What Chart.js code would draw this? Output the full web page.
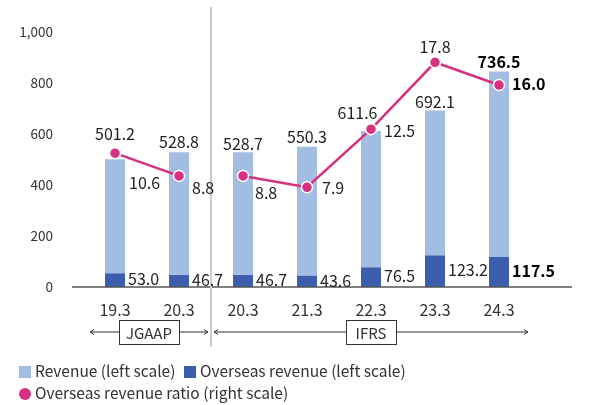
<!DOCTYPE html>
<html>
<head>
<meta charset="utf-8">
<script src="https://cdn.jsdelivr.net/npm/chart.js@4/dist/chart.umd.min.js"></script>
<style>
  body { margin: 0; background: #fff; }
  #wrap { position: relative; width: 608px; height: 405px; }
  .item { position: absolute; font: 15.5px "Noto Sans CJK JP", "Noto Sans", sans-serif; color: #333; line-height: 20px; white-space: nowrap; }
  .sq { display: inline-block; width: 12px; height: 12px; margin-right: 4px; vertical-align: -1px; }
  .dot { display: inline-block; width: 12px; height: 12px; border-radius: 50%; margin-right: 4px; vertical-align: -1px; }
</style>
</head>
<body>
<div id="wrap">
  <canvas id="chart" width="608" height="405"></canvas>
  <div class="item" style="left:19px;top:360px"><span class="sq" style="background:#a3bde3"></span>Revenue (left scale)</div>
  <div class="item" style="left:184px;top:360px"><span class="sq" style="background:#3b5ead"></span>Overseas revenue (left scale)</div>
  <div class="item" style="left:19px;top:382px"><span class="dot" style="background:#d6307f"></span>Overseas revenue ratio (right scale)</div>
</div>
<script>
// 데이터
const categories = ["19.3", "20.3", "20.3", "21.3", "22.3", "23.3", "24.3"];
// 막대 높이 (그림에서 읽은 값, 마지막 막대는 그림상 ~845)
const revenue = [501.2, 528.8, 528.7, 550.3, 611.6, 692.1, 845];
const revenueText = ["501.2", "528.8", "528.7", "550.3", "611.6", "692.1", "736.5"];
const overseas = [53.0, 46.7, 46.7, 43.6, 76.5, 123.2, 117.5];
const ratio = [10.6, 8.8, 8.8, 7.9, 12.5, 17.8, 16.0];
const yTicks = [0, 200, 400, 600, 800, 1000];

// 라벨 위치 조정
const revLabelDx = [0, 0, 0, 0, -13.5, 0, 0];
const revLabelDy = [-25, -10.5, -8.5, -10, -18.4, -8.4, -10];
const ratioLabelPos = [[14, 30, "left"], [13, 12, "left"], [12, 17, "left"], [15, 1, "left"], [13, 2, "left"], [0, -15, "center"], [13, -1, "left"]];

const FONT = '"Noto Sans CJK JP", "Noto Sans", sans-serif';
const PINK = "#d6307f";

const extras = {
  id: "extras",
  afterDraw(chart) {
    const ctx = chart.ctx;
    const x = chart.scales.x;
    const area = chart.chartArea;
    const x0 = x.getPixelForValue(0);
    const x1 = x.getPixelForValue(1);
    const x2 = x.getPixelForValue(2);
    const x4 = x.getPixelForValue(4);
    const x6 = x.getPixelForValue(6);
    const sepX = (x1 + x2) / 2;
    ctx.save();

    // 기준선
    ctx.strokeStyle = "#555";
    ctx.lineWidth = 1.5;
    ctx.beginPath();
    ctx.moveTo(area.left - 11, area.bottom);
    ctx.lineTo(area.right + 41, area.bottom);
    ctx.stroke();

    // 구분선
    ctx.strokeStyle = "#cccccc";
    ctx.lineWidth = 2;
    ctx.beginPath();
    ctx.moveTo(sepX, 7);
    ctx.lineTo(sepX, 347);
    ctx.stroke();

    // 화살표 + 박스
    const ay = 332;
    function arrow(a, b) {
      ctx.strokeStyle = "#333";
      ctx.lineWidth = 1;
      ctx.beginPath();
      ctx.moveTo(a, ay); ctx.lineTo(b, ay);
      ctx.moveTo(a + 4, ay - 2.5); ctx.lineTo(a, ay); ctx.lineTo(a + 4, ay + 2.5);
      ctx.moveTo(b - 4, ay - 2.5); ctx.lineTo(b, ay); ctx.lineTo(b - 4, ay + 2.5);
      ctx.stroke();
    }
    function box(cx, w, text) {
      ctx.fillStyle = "#fff";
      ctx.fillRect(cx - w / 2, ay - 12, w, 24);
      ctx.strokeStyle = "#333";
      ctx.lineWidth = 1;
      ctx.strokeRect(cx - w / 2 + 0.5, ay - 12 + 0.5, w, 24);
      ctx.fillStyle = "#333";
      ctx.font = "15px " + FONT;
      ctx.textAlign = "center";
      ctx.textBaseline = "middle";
      ctx.fillText(text, cx, ay + 1);
    }
    arrow(x0 - 25, sepX - 3);
    arrow(sepX + 3, x6 + 29);
    box((x0 + x1) / 2 + 2, 60, "JGAAP");
    box(x4, 50, "IFRS");

    // 매출 라벨
    ctx.textBaseline = "middle";
    const revMeta = chart.getDatasetMeta(2);
    revMeta.data.forEach((el, i) => {
      ctx.font = (i === 6 ? "bold " : "") + "16px " + FONT;
      ctx.fillStyle = i === 6 ? "#000" : "#222";
      ctx.textAlign = "center";
      ctx.fillText(revenueText[i], el.x + revLabelDx[i], el.y + revLabelDy[i]);
    });

    // 해외 매출 라벨
    const ovMeta = chart.getDatasetMeta(1);
    ovMeta.data.forEach((el, i) => {
      ctx.font = (i === 6 ? "bold " : "") + "16px " + FONT;
      ctx.fillStyle = i === 6 ? "#000" : "#222";
      ctx.textAlign = "left";
      ctx.fillText(overseas[i].toFixed(1), el.x + el.width / 2 + 3, (el.y + el.base) / 2 - 1);
    });

    // 비율 라벨
    const lineMeta = chart.getDatasetMeta(0);
    lineMeta.data.forEach((el, i) => {
      const p = ratioLabelPos[i];
      ctx.font = (i === 6 ? "bold " : "") + "16px " + FONT;
      ctx.fillStyle = i === 6 ? "#000" : "#222";
      ctx.textAlign = p[2];
      ctx.fillText(ratio[i].toFixed(1), el.x + p[0], el.y + p[1]);
    });
    ctx.restore();
  }
};

new Chart(document.getElementById("chart"), {
  data: {
    labels: categories,
    datasets: [
      {
        type: "line",
        label: "Overseas revenue ratio (right scale)",
        data: ratio,
        yAxisID: "y2",
        order: 0,
        borderColor: PINK,
        borderWidth: 2.5,
        pointRadius: 5.5,
        pointBackgroundColor: PINK,
        pointBorderColor: "#fff",
        pointBorderWidth: 1.5,
        tension: 0,
        segment: {
          borderColor: (c) => (c.p0DataIndex === 1 ? "rgba(0,0,0,0)" : PINK)
        }
      },
      {
        type: "bar",
        label: "Overseas revenue (left scale)",
        data: overseas,
        order: 1,
        backgroundColor: "#3b5ead",
        barPercentage: 0.3125,
        categoryPercentage: 1
      },
      {
        type: "bar",
        label: "Revenue (left scale)",
        data: revenue,
        order: 2,
        backgroundColor: "#a3bde3",
        barPercentage: 0.3125,
        categoryPercentage: 1
      }
    ]
  },
  options: {
    responsive: false,
    animation: false,
    devicePixelRatio: 1,
    layout: { padding: { top: 32, right: 77, bottom: 88, left: 0 } },
    plugins: { legend: { display: false }, tooltip: { enabled: false } },
    scales: {
      x: {
        stacked: true,
        grid: { display: false },
        border: { display: false },
        ticks: { color: "#333", font: { family: FONT, size: 16 }, padding: 5 },
        afterFit: (s) => { s.height = 30; }
      },
      y: {
        min: 0,
        max: 1000,
        grid: { display: false },
        border: { display: false },
        afterBuildTicks: (s) => { s.ticks = yTicks.map((v) => ({ value: v })); },
        ticks: {
          color: "#333",
          font: { family: FONT, size: 13.5 },
          padding: 22,
          callback: (v) => v.toLocaleString("en-US")
        },
        afterFit: (s) => { s.width = 83; }
      },
      y2: { display: false, position: "right", min: 0, max: 20.2 }
    }
  },
  plugins: [extras]
});
</script>
</body>
</html>
